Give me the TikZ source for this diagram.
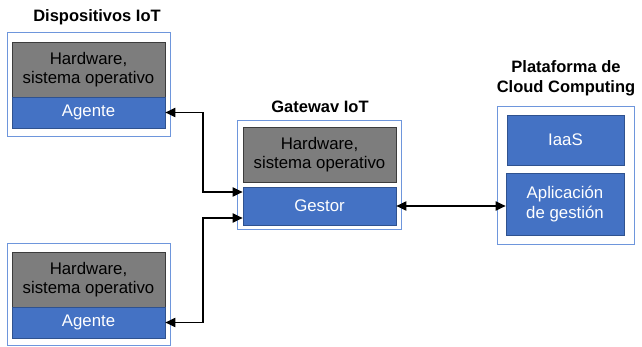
\documentclass[tikz,border=0pt]{standalone}
\usepackage{fontspec}
\setmainfont{Liberation Sans}
\usetikzlibrary{arrows.meta}
\definecolor{boxblue}{RGB}{68,114,196}
\definecolor{boxblueedge}{RGB}{47,82,143}
\definecolor{frameblue}{RGB}{110,150,220}
\definecolor{hwgray}{RGB}{125,125,125}
\definecolor{hwedge}{RGB}{60,60,60}
\tikzset{
  frame/.style={draw=frameblue, line width=1pt, fill=white, inner sep=0pt},
  hwbox/.style={draw=hwedge, fill=hwgray, line width=0.8pt, text=black, align=center,
    minimum width=153pt, minimum height=55pt, inner sep=0pt},
  swbox/.style={draw=boxblueedge, fill=boxblue, line width=0.6pt, text=white, align=center,
    inner sep=0pt},
  grouptitle/.style={font=\fontsize{16.5}{20}\selectfont\bfseries, align=center, inner sep=0pt},
  link/.style={draw=black, line width=1.8pt, {Triangle[length=10pt,width=9pt]}-{Triangle[length=10pt,width=9pt]}}
}
\begin{document}
\begin{tikzpicture}[x=1pt, y=-1pt, font=\fontsize{16.8}{19.5}\selectfont]
\useasboundingbox (0,0) rectangle (642,347);

% Dispositivos IoT (arriba)
\node[grouptitle] (t1) at (97,17) {Dispositivos IoT};
\node[frame, minimum width=163pt, minimum height=104pt] (f1) at (88.5,85) {};
\node[hwbox] (hw1) at (88.5,69.5) {Hardware,\\sistema operativo};
\node[swbox, minimum width=153pt, minimum height=31pt] (ag1) at (88.5,112.5) {Agente};

% Dispositivos IoT (abajo)
\node[frame, minimum width=163pt, minimum height=101pt] (f2) at (88.5,294.5) {};
\node[hwbox] (hw2) at (88.5,279.5) {Hardware,\\sistema operativo};
\node[swbox, minimum width=153pt, minimum height=31pt] (ag2) at (88.5,322.5) {Agente};

% Gateway IoT
\node[grouptitle] (t3) at (320,107) {Gatewav IoT};
\node[frame, minimum width=164pt, minimum height=109pt] (f3) at (319,175.5) {};
\node[hwbox] (hw3) at (319.5,154.5) {Hardware,\\sistema operativo};
\node[swbox, minimum width=153pt, minimum height=38pt] (ges) at (319.5,206) {Gestor};

% Plataforma de Cloud Computing
\node[grouptitle] (t4) at (566,78) {Plataforma de\\Cloud Computing};
\node[frame, minimum width=137pt, minimum height=138pt] (f4) at (565.5,176) {};
\node[swbox, minimum width=117pt, minimum height=50pt] (iaas) at (565.5,140) {IaaS};
\node[swbox, minimum width=118pt, minimum height=62pt] (app) at (565,204) {Aplicación\\de gestión};

% Conexiones
\draw[link] (ag1.east) -- ++(38,0) |- ([yshift=14pt]ges.west);
\draw[link] (ag2.east) -- ++(38,0) |- ([yshift=-12pt]ges.west);
\draw[link] (ges.east) -- (ges.east -| app.west);
\end{tikzpicture}
\end{document}
